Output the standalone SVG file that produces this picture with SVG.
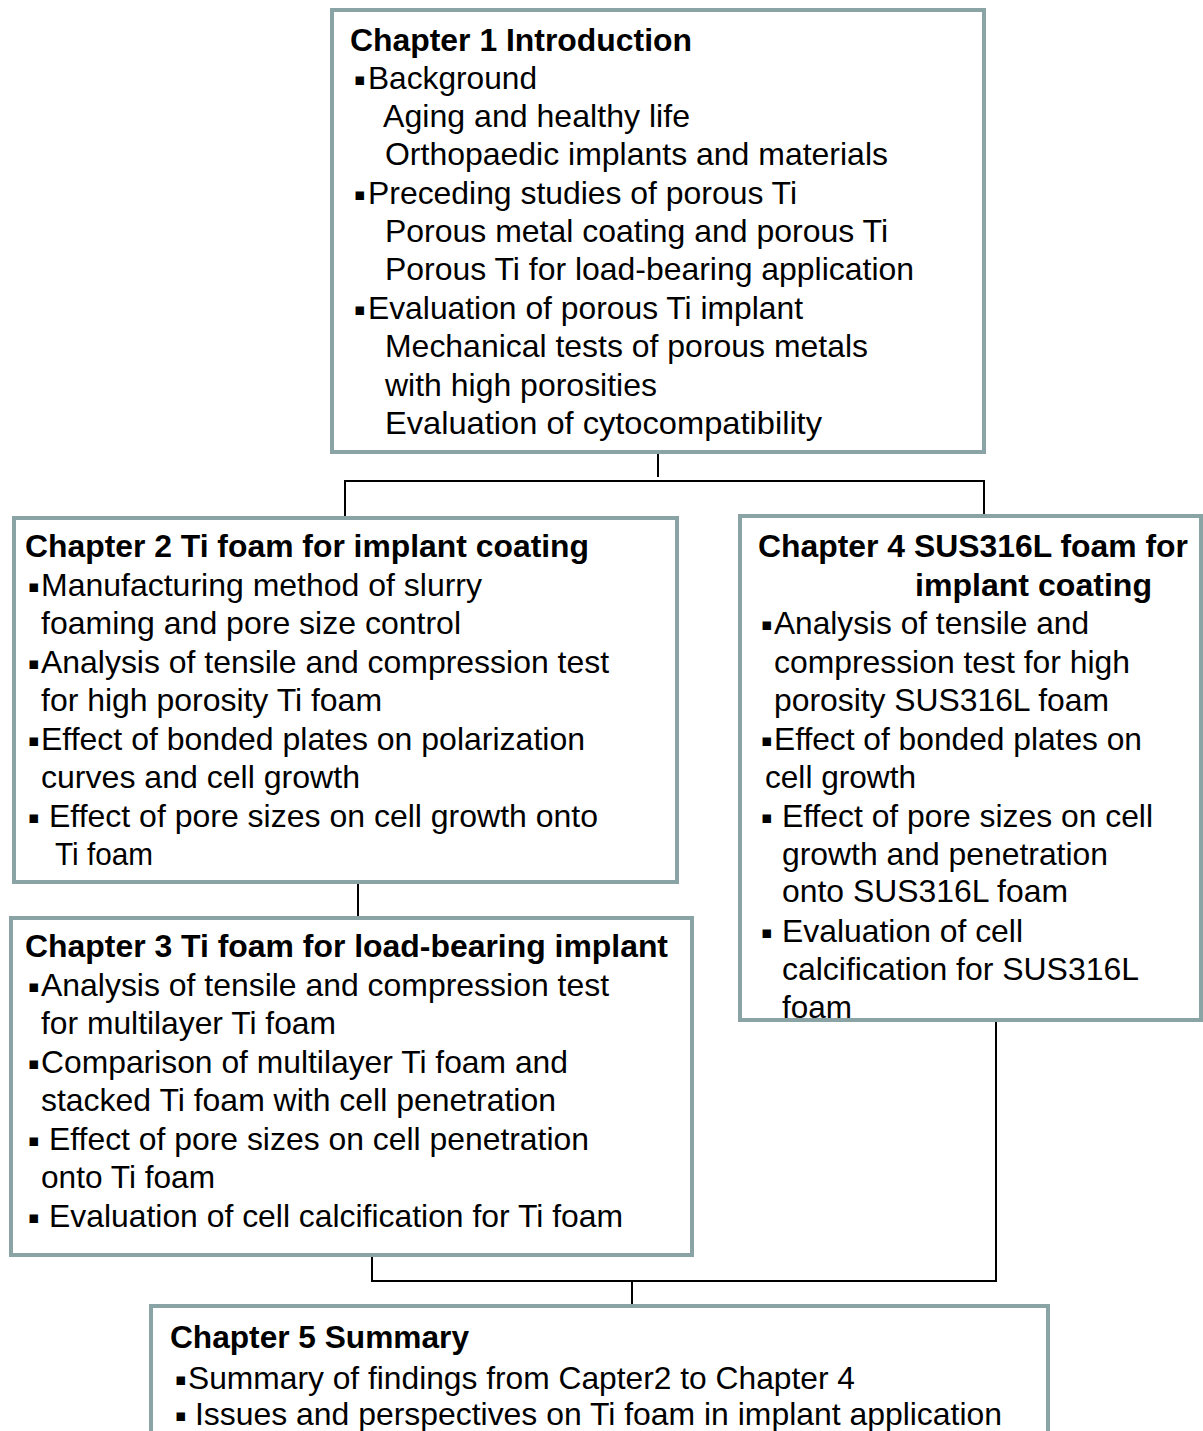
<svg xmlns="http://www.w3.org/2000/svg" width="1203" height="1431" viewBox="0 0 1203 1431">
<style>
.box{fill:#fff;stroke:#8aa3a4;stroke-width:4}
.t{font-family:"Liberation Sans",Arial,sans-serif;font-size:32px;fill:#000}
.h{font-family:"Liberation Sans",Arial,sans-serif;font-size:32px;font-weight:bold;fill:#000}
.b{font-family:"DejaVu Sans",sans-serif;font-size:17px;fill:#000}
.c{fill:none;stroke:#000;stroke-width:2}
</style>
<rect width="1203" height="1431" fill="#fff"/>
<g id="connectors">
<path class="c" d="M658 452V477"/>
<path class="c" d="M345 518V481H984V515" stroke-width="2.5"/>
<path class="c" d="M358 882V918"/>
<path class="c" d="M372 1255V1281H996V1020"/>
<path class="c" d="M632 1281V1306"/>
</g>
<g id="ch1">
<rect class="box" x="332" y="10" width="652" height="442"/>
<text class="h" x="350" y="51" textLength="342" lengthAdjust="spacingAndGlyphs">Chapter 1 Introduction</text>
<text class="b" x="354" y="85">▪</text>
<text class="t" x="368" y="89" textLength="169" lengthAdjust="spacingAndGlyphs">Background</text>
<text class="t" x="383" y="127" textLength="307" lengthAdjust="spacingAndGlyphs">Aging and healthy life</text>
<text class="t" x="385" y="165" textLength="503" lengthAdjust="spacingAndGlyphs">Orthopaedic implants and materials</text>
<text class="b" x="354" y="200">▪</text>
<text class="t" x="368" y="204" textLength="429" lengthAdjust="spacingAndGlyphs">Preceding studies of porous Ti</text>
<text class="t" x="385" y="242" textLength="503" lengthAdjust="spacingAndGlyphs">Porous metal coating and porous Ti</text>
<text class="t" x="385" y="280" textLength="529" lengthAdjust="spacingAndGlyphs">Porous Ti for load-bearing application</text>
<text class="b" x="354" y="315">▪</text>
<text class="t" x="368" y="319" textLength="435" lengthAdjust="spacingAndGlyphs">Evaluation of porous Ti implant</text>
<text class="t" x="385" y="357" textLength="483" lengthAdjust="spacingAndGlyphs">Mechanical tests of porous metals</text>
<text class="t" x="385" y="396" textLength="272" lengthAdjust="spacingAndGlyphs">with high porosities</text>
<text class="t" x="385" y="434" textLength="437" lengthAdjust="spacingAndGlyphs">Evaluation of  cytocompatibility</text>
</g>
<g id="ch2">
<rect class="box" x="14" y="518" width="663" height="364"/>
<text class="h" x="25" y="557" textLength="564" lengthAdjust="spacingAndGlyphs">Chapter 2 Ti foam for implant coating</text>
<text class="b" x="28" y="592">▪</text>
<text class="t" x="41" y="596" textLength="441" lengthAdjust="spacingAndGlyphs">Manufacturing method of slurry</text>
<text class="t" x="41" y="634" textLength="420" lengthAdjust="spacingAndGlyphs">foaming and pore size control</text>
<text class="b" x="28" y="669">▪</text>
<text class="t" x="41" y="673" textLength="568" lengthAdjust="spacingAndGlyphs">Analysis of tensile and compression test</text>
<text class="t" x="41" y="711" textLength="341" lengthAdjust="spacingAndGlyphs">for high porosity Ti foam</text>
<text class="b" x="28" y="746">▪</text>
<text class="t" x="41" y="750" textLength="544" lengthAdjust="spacingAndGlyphs">Effect of bonded plates on polarization</text>
<text class="t" x="41" y="788" textLength="319" lengthAdjust="spacingAndGlyphs">curves and cell growth</text>
<text class="b" x="28" y="823">▪</text>
<text class="t" x="49" y="827" textLength="549" lengthAdjust="spacingAndGlyphs">Effect of pore sizes on cell growth onto</text>
<text class="t" x="55" y="865" textLength="98" lengthAdjust="spacingAndGlyphs">Ti foam</text>
</g>
<g id="ch3">
<rect class="box" x="11" y="918" width="681" height="337"/>
<text class="h" x="25" y="957" textLength="643" lengthAdjust="spacingAndGlyphs">Chapter 3 Ti foam for load-bearing implant</text>
<text class="b" x="28" y="992">▪</text>
<text class="t" x="41" y="996" textLength="568" lengthAdjust="spacingAndGlyphs">Analysis of tensile and compression test</text>
<text class="t" x="41" y="1034" textLength="295" lengthAdjust="spacingAndGlyphs">for multilayer Ti foam</text>
<text class="b" x="28" y="1069">▪</text>
<text class="t" x="41" y="1073" textLength="527" lengthAdjust="spacingAndGlyphs">Comparison of multilayer Ti foam and</text>
<text class="t" x="41" y="1111" textLength="515" lengthAdjust="spacingAndGlyphs">stacked Ti foam with cell penetration</text>
<text class="b" x="28" y="1146">▪</text>
<text class="t" x="49" y="1150" textLength="540" lengthAdjust="spacingAndGlyphs">Effect of pore sizes on cell penetration</text>
<text class="t" x="41" y="1188" textLength="174" lengthAdjust="spacingAndGlyphs">onto Ti foam</text>
<text class="b" x="28" y="1223">▪</text>
<text class="t" x="49" y="1227" textLength="574" lengthAdjust="spacingAndGlyphs">Evaluation of cell calcification for Ti foam</text>
</g>
<g id="ch4">
<rect class="box" x="740" y="516" width="461" height="504"/>
<text class="h" x="758" y="557" textLength="430" lengthAdjust="spacingAndGlyphs">Chapter 4 SUS316L foam for</text>
<text class="h" x="915" y="596" textLength="237" lengthAdjust="spacingAndGlyphs">implant coating</text>
<text class="b" x="761" y="630">▪</text>
<text class="t" x="774" y="634" textLength="315" lengthAdjust="spacingAndGlyphs">Analysis of tensile and</text>
<text class="t" x="774" y="673" textLength="356" lengthAdjust="spacingAndGlyphs">compression test for high</text>
<text class="t" x="774" y="711" textLength="335" lengthAdjust="spacingAndGlyphs">porosity SUS316L foam</text>
<text class="b" x="761" y="746">▪</text>
<text class="t" x="774" y="750" textLength="368" lengthAdjust="spacingAndGlyphs">Effect of bonded plates on</text>
<text class="t" x="765" y="788" textLength="151" lengthAdjust="spacingAndGlyphs">cell growth</text>
<text class="b" x="761" y="823">▪</text>
<text class="t" x="782" y="827" textLength="371" lengthAdjust="spacingAndGlyphs">Effect of pore sizes on cell</text>
<text class="t" x="782" y="865" textLength="326" lengthAdjust="spacingAndGlyphs">growth and penetration</text>
<text class="t" x="782" y="902" textLength="286" lengthAdjust="spacingAndGlyphs">onto SUS316L foam</text>
<text class="b" x="761" y="938">▪</text>
<text class="t" x="782" y="942" textLength="241" lengthAdjust="spacingAndGlyphs">Evaluation of cell</text>
<text class="t" x="782" y="980" textLength="357" lengthAdjust="spacingAndGlyphs">calcification for SUS316L</text>
<text class="t" x="782" y="1018" textLength="70" lengthAdjust="spacingAndGlyphs">foam</text>
</g>
<g id="ch5">
<rect class="box" x="151" y="1306" width="897" height="150"/>
<text class="h" x="170" y="1348" textLength="299" lengthAdjust="spacingAndGlyphs">Chapter 5 Summary</text>
<text class="b" x="175" y="1385">▪</text>
<text class="t" x="188" y="1389" textLength="667" lengthAdjust="spacingAndGlyphs">Summary of findings from Capter2 to Chapter 4</text>
<text class="b" x="175" y="1421">▪</text>
<text class="t" x="195" y="1425" textLength="807" lengthAdjust="spacingAndGlyphs">Issues and perspectives on Ti foam in implant application</text>
</g>
</svg>
